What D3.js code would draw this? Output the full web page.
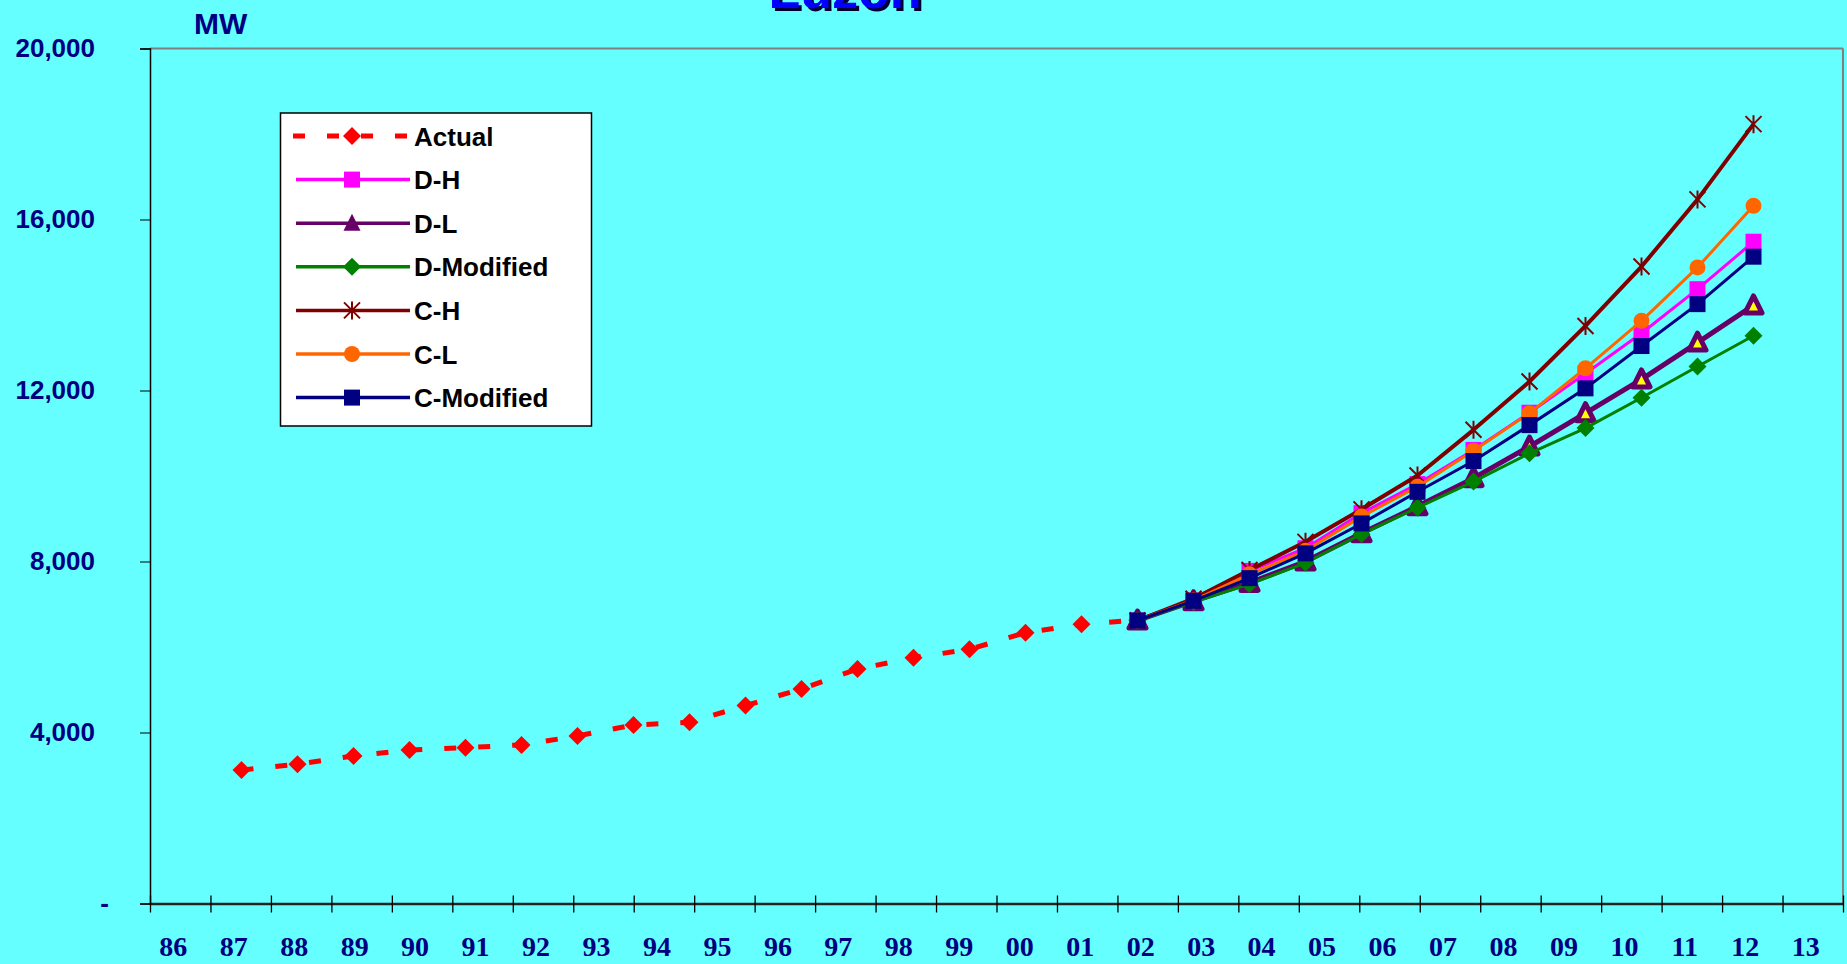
<!DOCTYPE html>
<html>
<head>
<meta charset="utf-8">
<script src="https://cdn.jsdelivr.net/npm/d3@7"></script>
<style>
  body { margin: 0; background: #66ffff; }
  svg { display: block; }
</style>
</head>
<body>
<script>
//-----------------
const years = ["86", "87", "88", "89", "90", "91", "92", "93", "94", "95", "96", "97", "98", "99",
  "00", "01", "02", "03", "04", "05", "06", "07", "08", "09", "10", "11", "12", "13"];
const yTicks = [0, 4000, 8000, 12000, 16000, 20000];

const actual = [3120, 3260, 3450, 3590, 3645, 3710, 3920, 4175, 4240, 4630, 5020, 5485, 5750, 5945, 6335, 6530, 6630];
const forecastYears = years.slice(16);
const dH = [6620, 7090, 7780, 8310, 9130, 9810, 10610, 11480, 12400, 13340, 14370, 15480];
const dL = [6620, 7070, 7500, 8000, 8660, 9290, 9950, 10690, 11470, 12260, 13120, 13990];
const dModified = [6620, 7050, 7470, 7970, 8640, 9260, 9870, 10530, 11120, 11830, 12560, 13280];
const cH = [6620, 7130, 7800, 8460, 9220, 10010, 11080, 12210, 13510, 14900, 16470, 18230];
const cL = [6620, 7090, 7700, 8250, 9050, 9750, 10590, 11470, 12520, 13630, 14880, 16320];
const cModified = [6620, 7080, 7610, 8190, 8890, 9630, 10350, 11190, 12050, 13040, 14020, 15130];
//-----------------

const w = 1847;
const h = 964;
const plotLeft = 150, plotRight = 1843, plotTop = 48.5, plotBottom = 903.5;
const navy = "#000080";
const sans = "'Liberation Sans', Arial, sans-serif";

const svg = d3.select("body").append("svg").attr("width", w).attr("height", h);

// category axis (ticks between labels)
const xBand = d3.scaleBand().domain(years).range([plotLeft, plotRight]);
// the plotted points sit on their own, slightly narrower, spacing
const xPt = d3.scalePoint().domain(years).range([241.5, 1753.5]);
const yScale = d3.scaleLinear().domain([0, 20000]).range([plotBottom, plotTop]);

// title (cut off at top, as in the original)
const title = svg.append("g").attr("font-family", sans).attr("font-weight", "bold")
  .attr("font-size", 52).attr("text-anchor", "middle");
title.append("text").attr("x", 848).attr("y", 11).attr("fill", "#000033").text("Luzon");
title.append("text").attr("x", 845).attr("y", 8).attr("fill", "#0000ff").text("Luzon");

svg.append("text").attr("x", 194).attr("y", 34).attr("font-family", sans).attr("font-weight", "bold")
  .attr("font-size", 30).attr("fill", navy).text("MW");

// plot frame
svg.append("line").attr("x1", plotLeft).attr("x2", plotRight).attr("y1", plotTop).attr("y2", plotTop)
  .attr("stroke", "#808080").attr("stroke-width", 2);
svg.append("line").attr("x1", plotRight).attr("x2", plotRight).attr("y1", plotTop).attr("y2", plotBottom)
  .attr("stroke", "#808080").attr("stroke-width", 2);

// y axis
const yAxis = d3.axisLeft(yScale).tickValues(yTicks).tickSize(10).tickPadding(45)
  .tickFormat((d) => (d === 0 ? "-" : d3.format(",")(d)));
const gy = svg.append("g").attr("transform", "translate(" + plotLeft + ",0)").call(yAxis);
gy.select(".domain").attr("stroke", "#000").attr("stroke-width", 1.5);
gy.selectAll("text").attr("font-family", sans).attr("font-weight", "bold").attr("font-size", 26)
  .attr("fill", navy).attr("x", (d) => (d === 0 ? -41 : -55));

// x axis: tick marks at band edges, labels in the bands
const edge = d3.scaleLinear().domain([0, years.length]).range([plotLeft, plotRight]);
const xTicks = d3.axisBottom(edge).tickValues(d3.range(years.length + 1)).tickFormat("").tickSizeOuter(0);
const gt = svg.append("g").attr("transform", "translate(0," + plotBottom + ")").call(xTicks);
gt.select(".domain").attr("stroke", "#222").attr("stroke-width", 2.5);
gt.selectAll(".tick line").attr("y1", -8).attr("y2", 9).attr("stroke", "#000").attr("stroke-width", 1.3);

const xAxis = d3.axisBottom(xBand).tickSize(0).tickPadding(32.6);
const gx = svg.append("g").attr("transform", "translate(0," + plotBottom + ")").call(xAxis);
gx.select(".domain").remove();
gx.selectAll("text").attr("font-family", "'Liberation Serif', 'Times New Roman', serif")
  .attr("font-weight", "bold").attr("font-size", 28).attr("fill", navy).attr("dx", -7);

// markers
const square = "M-8,-8H8V8H-8Z";
const diamond = "M0,-9L9,0L0,9L-9,0Z";
const triangle = "M0,-9.5L8.5,7.5L-8.5,7.5Z";
const star = "M0,-9V9M-8,-8L8,8M8,-8L-8,8";

const series = [
  { name: "D-H", values: dH, color: "#ff00ff", width: 3, marker: square },
  { name: "D-L", values: dL, color: "#660066", width: 5, marker: triangle },
  { name: "D-Modified", values: dModified, color: "#008000", width: 3, marker: diamond },
  { name: "C-H", values: cH, color: "#800000", width: 4, marker: star },
  { name: "C-L", values: cL, color: "#ff6600", width: 3, marker: "circle" },
  { name: "C-Modified", values: cModified, color: "#000080", width: 3, marker: square },
];

function drawMarker(g, s, x, y, inLegend) {
  if (s.marker === "circle") {
    g.append("circle").attr("cx", x).attr("cy", y).attr("r", 8).attr("fill", s.color);
  } else if (s.marker === star) {
    g.append("path").attr("d", s.marker).attr("transform", "translate(" + x + "," + y + ")")
      .attr("fill", "none").attr("stroke", s.color).attr("stroke-width", 2);
  } else if (s.marker === triangle && !inLegend) {
    g.append("path").attr("d", s.marker).attr("transform", "translate(" + x + "," + y + ")")
      .attr("fill", "#ffff00").attr("stroke", s.color).attr("stroke-width", 5).attr("stroke-linejoin", "round");
  } else {
    g.append("path").attr("d", s.marker).attr("transform", "translate(" + x + "," + y + ")")
      .attr("fill", s.color);
  }
}

const line = d3.line().x((d) => xPt(d[0])).y((d) => yScale(d[1]));

// Actual
const actualPts = actual.map((v, i) => [years[i], v]);
svg.append("path").attr("d", line(actualPts)).attr("fill", "none").attr("stroke", "#ff0000")
  .attr("stroke-width", 5).attr("stroke-dasharray", "12,22");
svg.selectAll(".actual").data(actualPts).enter().append("path").attr("class", "actual")
  .attr("d", diamond).attr("transform", (d) => "translate(" + xPt(d[0]) + "," + yScale(d[1]) + ")")
  .attr("fill", "#ff0000");

// forecasts
series.forEach((s) => {
  const pts = s.values.map((v, i) => [forecastYears[i], v]);
  const g = svg.append("g");
  g.append("path").attr("d", line(pts)).attr("fill", "none").attr("stroke", s.color)
    .attr("stroke-width", s.width).attr("stroke-linejoin", "round");
  pts.forEach((d) => drawMarker(g, s, xPt(d[0]), yScale(d[1]), false));
});

// legend
const lg = svg.append("g");
lg.append("rect").attr("x", 280.5).attr("y", 113).attr("width", 311).attr("height", 313)
  .attr("fill", "#fff").attr("stroke", "#000").attr("stroke-width", 1.5);
const rowY = (i) => 136 + i * 43.6;
lg.append("line").attr("x1", 293).attr("x2", 410).attr("y1", rowY(0)).attr("y2", rowY(0))
  .attr("stroke", "#ff0000").attr("stroke-width", 5).attr("stroke-dasharray", "12,22");
lg.append("path").attr("d", diamond).attr("transform", "translate(352," + rowY(0) + ")").attr("fill", "#ff0000");
lg.append("text").attr("x", 414).attr("y", rowY(0) + 9.5).text("Actual");
series.forEach((s, i) => {
  const y = rowY(i + 1);
  lg.append("line").attr("x1", 296).attr("x2", 410).attr("y1", y).attr("y2", y)
    .attr("stroke", s.color).attr("stroke-width", 3.5);
  drawMarker(lg, s, 352, y, true);
  lg.append("text").attr("x", 414).attr("y", y + 9.5).text(s.name);
});
lg.selectAll("text").attr("font-family", sans).attr("font-weight", "bold").attr("font-size", 26).attr("fill", "#000");
</script>
</body>
</html>
